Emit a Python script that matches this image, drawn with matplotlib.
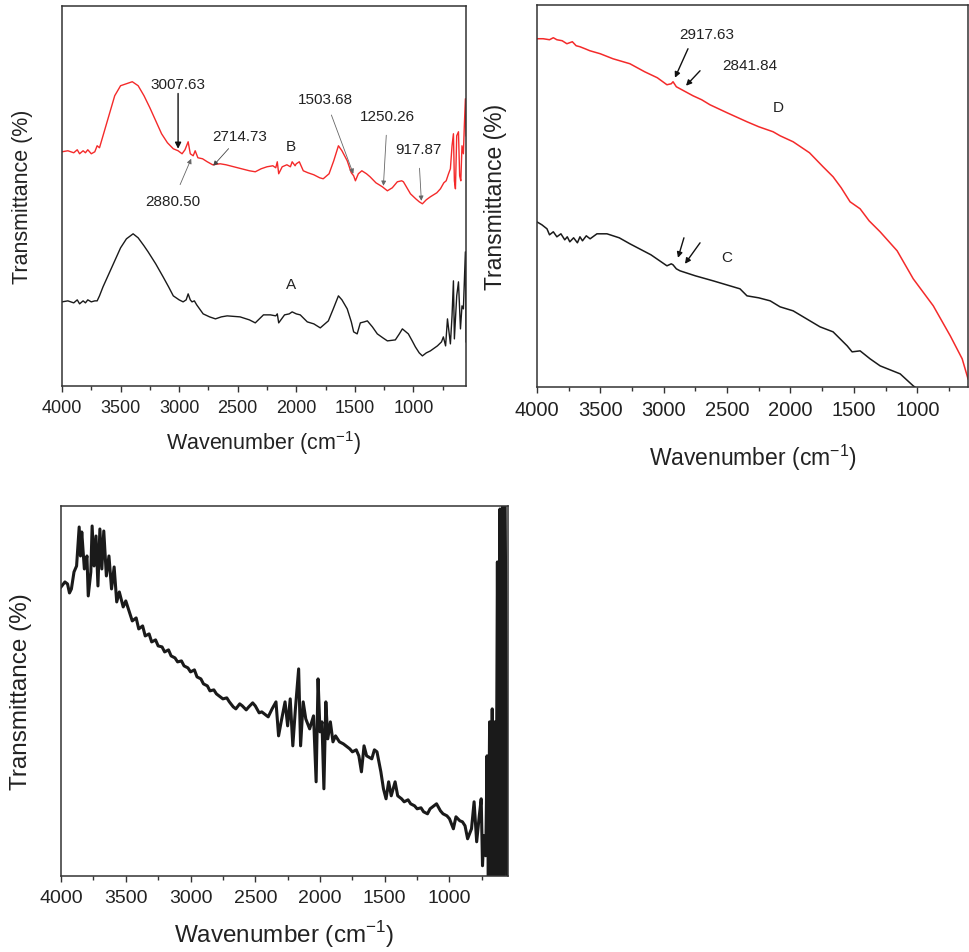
import matplotlib
matplotlib.use("Agg")
import matplotlib.pyplot as plt
from matplotlib.ticker import MultipleLocator

plt.rcParams['font.family'] = ['Liberation Sans', 'DejaVu Sans']
plt.rcParams['mathtext.fontset'] = 'custom'
plt.rcParams['mathtext.rm'] = 'Liberation Sans'

###############################################################################
############################## Data ###########################################
###############################################################################

# top-left panel, curve B (red) -- wavenumber (cm-1), transmittance (a.u.)
wn_B = [4000, 3950, 3900, 3870, 3850, 3820, 3800, 3780, 3750, 3720, 3700, 3680,
        3650, 3600, 3550, 3500, 3450, 3400, 3350, 3300, 3250, 3200, 3150, 3100,
        3050, 3009, 2975, 2950, 2923, 2905, 2880, 2863, 2840, 2800, 2760, 2714,
        2650, 2600, 2500, 2400, 2350, 2300, 2250, 2200, 2175, 2162, 2150, 2120,
        2080, 2050, 2035, 2010, 2000, 1974, 1940, 1900, 1850, 1800, 1770, 1720,
        1680, 1640, 1610, 1565, 1530, 1510, 1495, 1470, 1440, 1400, 1370, 1320,
        1265, 1222, 1180, 1137, 1100, 1085, 1050, 1025, 980, 950, 923, 890,
        855, 800, 769, 740, 720, 700, 684, 670, 658, 650, 641, 630, 615, 605,
        595, 585, 573, 565, 556, 550]
T_B = [234, 235, 233, 236, 232, 235, 233, 236, 232, 234, 240, 238,
       250, 270, 290, 300, 302, 304, 300, 290, 278, 265, 252, 243,
       237, 235, 232, 236, 244, 232, 230, 235, 228, 227, 224, 221,
       222, 221, 218, 215, 214, 217, 219, 220, 218, 224, 212, 219,
       221, 219, 224, 220, 222, 224, 215, 213, 211, 208, 207, 212,
       225, 240, 235, 225, 213, 210, 205, 212, 215, 212, 209, 203,
       199, 195, 198, 204, 205, 204, 197, 192, 187, 184, 182, 186,
       189, 193, 197, 203, 205, 212, 217, 240, 252, 205, 197, 250, 254, 210,
       205, 240, 232, 260, 287, 250]

# top-left panel, curve A (black)
wn_A = [4000, 3950, 3900, 3870, 3850, 3820, 3800, 3780, 3750, 3720, 3700, 3680,
        3650, 3600, 3550, 3500, 3450, 3393, 3350, 3300, 3265, 3200, 3137, 3090,
        3050, 3000, 2966, 2940, 2923, 2905, 2890, 2870, 2850, 2795, 2740, 2690,
        2640, 2590, 2480, 2400, 2350, 2280, 2220, 2175, 2162, 2150, 2100, 2060,
        2035, 2000, 1966, 1906, 1850, 1795, 1726, 1684, 1640, 1610, 1565, 1530,
        1510, 1480, 1453, 1420, 1393, 1350, 1308, 1260, 1222, 1154, 1120, 1094,
        1043, 1010, 983, 950, 923, 890, 855, 795, 760, 744, 725, 709, 684, 670,
        658, 650, 630, 615, 598, 585, 573, 556, 550]
T_A = [84, 85, 83, 86, 82, 85, 83, 86, 84, 85, 85, 90,
       99, 112, 125, 138, 147, 152, 148, 140, 134, 122, 109, 99,
       90, 86, 84, 86, 92, 86, 84, 85, 81, 72, 69, 67,
       69, 70, 69, 66, 63, 71, 71, 70, 72, 63, 71, 72,
       74, 72, 71, 64, 62, 58, 65, 77, 90, 86, 77, 64,
       54, 52, 63, 64, 65, 59, 52, 48, 45, 46, 52, 57,
       52, 45, 39, 33, 30, 33, 35, 40, 44, 49, 40, 67, 42, 70,
       105, 47, 90, 104, 57, 80, 77, 134, 44]

# top-right panel, curve D (red)
wn_D = [4000, 3950, 3900, 3870, 3842, 3800, 3763, 3720, 3690, 3660, 3620, 3582,
        3500, 3400, 3266, 3150, 3050, 2974, 2940, 2926, 2900, 2871, 2769, 2700,
        2635, 2500, 2343, 2250, 2137, 2082, 1979, 1850, 1743, 1664, 1600, 1530,
        1451, 1380, 1293, 1159, 1032, 874, 740, 646, 600]
T_D = [348, 348, 347, 349, 347, 346, 343, 345, 341, 340, 338, 336,
       333, 328, 323, 315, 309, 302, 303, 305, 300, 298, 291, 287,
       282, 274, 265, 260, 255, 251, 245, 234, 220, 210, 199, 185,
       178, 166, 155, 136, 108, 81, 51, 28, 8]

# top-right panel, curve C (black)
wn_C = [4000, 3960, 3920, 3900, 3870, 3842, 3810, 3780, 3760, 3740, 3710, 3680,
        3660, 3640, 3610, 3580, 3526, 3447, 3350, 3266, 3100, 2974, 2940, 2926,
        2900, 2871, 2750, 2610, 2398, 2343, 2250, 2160, 2082, 1979, 1767, 1664,
        1553, 1514, 1451, 1372, 1293, 1135, 1032, 1000, 900, 600]
T_C = [165, 162, 158, 152, 155, 150, 153, 147, 150, 145, 149, 144,
       150, 146, 151, 148, 153, 153, 149, 143, 132, 121, 123, 122,
       118, 116, 111, 106, 98, 91, 89, 86, 80, 76, 60, 55,
       41, 35, 36, 28, 21, 13, 1, -2, -15, -60]

# bottom panel (black)
wn_E = [4000, 3970, 3950, 3935, 3920, 3900, 3880, 3860, 3850, 3840, 3820, 3800,
        3790, 3770, 3760, 3745, 3730, 3715, 3700, 3685, 3670, 3650, 3630, 3610,
        3590, 3570, 3550, 3520, 3500, 3480, 3450, 3420, 3400, 3370, 3350, 3320,
        3300, 3270, 3250, 3220, 3200, 3170, 3150, 3120, 3100, 3070, 3050, 3020,
        3000, 2970, 2950, 2920, 2900, 2870, 2850, 2820, 2800, 2770, 2750, 2720,
        2700, 2670, 2650, 2620, 2600, 2570, 2550, 2520, 2500, 2470, 2450, 2420,
        2400, 2370, 2340, 2320, 2300, 2270, 2250, 2230, 2210, 2190, 2165, 2150,
        2130, 2110, 2080, 2050, 2030, 2015, 2000, 1985, 1970, 1955, 1940, 1920,
        1900, 1880, 1850, 1820, 1800, 1770, 1750, 1720, 1700, 1680, 1660, 1640,
        1600, 1580, 1560, 1530, 1510, 1490, 1470, 1450, 1420, 1400, 1370, 1350,
        1320, 1300, 1270, 1250, 1220, 1200, 1170, 1150, 1120, 1100, 1070, 1050,
        1020, 1000, 970, 950, 920, 900, 880, 860, 830, 810, 790, 770, 755, 745,
        735, 720, 710, 700, 690, 680, 670, 660, 650, 640, 630, 620, 610, 600,
        590, 580, 570, 560, 553]
T_E = [289, 294, 292, 283, 287, 304, 310, 349, 320, 344, 307, 320,
       280, 304, 350, 310, 340, 290, 347, 307, 345, 300, 320, 287,
       309, 274, 284, 269, 275, 267, 255, 258, 247, 250, 240, 242,
       234, 236, 230, 229, 224, 226, 220, 218, 214, 215, 210, 208,
       204, 206, 199, 197, 192, 190, 185, 186, 182, 179, 177, 178,
       174, 169, 167, 172, 170, 166, 169, 173, 170, 163, 164, 161,
       159, 167, 174, 140, 154, 174, 150, 177, 130, 167, 207, 130,
       174, 157, 147, 160, 94, 197, 144, 154, 87, 174, 137, 154,
       134, 140, 134, 132, 130, 127, 124, 126, 120, 104, 130, 120,
       117, 126, 124, 104, 87, 77, 94, 80, 94, 80, 77, 74,
       76, 72, 70, 67, 68, 64, 62, 67, 70, 72, 65, 62,
       60, 57, 47, 59, 55, 54, 50, 37, 47, 74, 34, 60, 77, 10,
       40, 20, 120, 0, 154, 0, 167, 0, 154, 0, 314, 0, 367, 0,
       370, 0, 370, 154, 0]

###############################################################################
############################## Figure #########################################
###############################################################################

RED = '#f42a2a'
BLACK = '#1a1a1a'
FRAME = '#333333'
XLABEL = r'Wavenumber (cm$^{\mathregular{-1}}$)'

fig = plt.figure(figsize=(9.69, 9.53), dpi=100)
ax1 = fig.add_axes([0.064, 0.594, 0.417, 0.399])
ax2 = fig.add_axes([0.554, 0.593, 0.445, 0.401])
ax3 = fig.add_axes([0.063, 0.080, 0.461, 0.388])


def style_axis(ax, xmin, tick_fs, label_fs, ylabel_x, xlabel_y):
    ax.set_xlim(4000, xmin)
    ax.set_xticks([4000, 3500, 3000, 2500, 2000, 1500, 1000])
    ax.xaxis.set_minor_locator(MultipleLocator(250))
    ax.set_yticks([])
    ax.tick_params(axis='x', which='major', direction='out', length=4.5,
                   width=1, pad=5, labelsize=tick_fs, colors=FRAME, labelcolor='#222222')
    ax.tick_params(axis='x', which='minor', direction='out', length=3, width=1, colors=FRAME)
    for sp in ax.spines.values():
        sp.set_color(FRAME)
        sp.set_linewidth(1.1)
    ax.set_xlabel(XLABEL, fontsize=label_fs, color='#222222')
    ax.set_ylabel('Transmittance (%)', fontsize=label_fs, color='#222222')
    ax.yaxis.set_label_coords(ylabel_x, 0.5)
    ax.xaxis.set_label_coords(0.5, xlabel_y)


# top-left: A and B
ax1.plot(wn_B, T_B, color=RED, lw=1.0)
ax1.plot(wn_A, T_A, color=BLACK, lw=1.0)
ax1.set_ylim(0, 380)
style_axis(ax1, 550, 13, 15.5, -0.072, -0.112)
ax1.text(2043, 102, 'A', fontsize=11, ha='center', va='center', color='#222222')
ax1.text(2043, 240, 'B', fontsize=11, ha='center', va='center', color='#222222')

ann_fs = 11
ax1.annotate('3007.63', xy=(3009, 237), xytext=(3009, 295), fontsize=ann_fs,
             ha='center', va='bottom', color='#222222',
             arrowprops=dict(arrowstyle='-|>', color='#111111', lw=1.0, mutation_scale=9,
                             shrinkA=0, shrinkB=0))
ax1.annotate('2714.73', xy=(2709, 220), xytext=(2479, 250), fontsize=ann_fs,
             ha='center', va='center', color='#222222',
             arrowprops=dict(arrowstyle='-|>', color='#444444', lw=0.6, mutation_scale=7,
                             shrinkA=3, shrinkB=0))
ax1.annotate('2880.50', xy=(2897, 227), xytext=(3051, 185), fontsize=ann_fs,
             ha='center', va='center', color='#222222',
             arrowprops=dict(arrowstyle='-|>', color='#666666', lw=0.6, mutation_scale=7,
                             shrinkA=5, shrinkB=0))
ax1.annotate('1503.68', xy=(1513, 212), xytext=(1752, 287), fontsize=ann_fs,
             ha='center', va='center', color='#222222',
             arrowprops=dict(arrowstyle='-|>', color='#666666', lw=0.6, mutation_scale=7,
                             shrinkA=5, shrinkB=0))
ax1.annotate('1250.26', xy=(1256, 200), xytext=(1222, 270), fontsize=ann_fs,
             ha='center', va='center', color='#222222',
             arrowprops=dict(arrowstyle='-|>', color='#666666', lw=0.6, mutation_scale=7,
                             shrinkA=7, shrinkB=0))
ax1.annotate('917.87', xy=(932, 185), xytext=(957, 237), fontsize=ann_fs,
             ha='center', va='center', color='#222222',
             arrowprops=dict(arrowstyle='-|>', color='#666666', lw=0.6, mutation_scale=7,
                             shrinkA=7, shrinkB=0))

# top-right: C and D
ax2.plot(wn_D, T_D, color=RED, lw=1.1)
ax2.plot(wn_C, T_C, color=BLACK, lw=1.1)
ax2.set_ylim(0, 382)
style_axis(ax2, 600, 14.5, 16.5, -0.070, -0.145)
ax2.text(2098, 280, 'D', fontsize=11, ha='center', va='center', color='#222222')
ax2.text(2500, 130, 'C', fontsize=11, ha='center', va='center', color='#222222')
ax2.text(2658, 353, '2917.63', fontsize=ann_fs, ha='center', va='center', color='#222222')
ax2.text(2319, 322, '2841.84', fontsize=ann_fs, ha='center', va='center', color='#222222')

arrow_kw = dict(arrowstyle='-|>', color='#111111', lw=1.0, mutation_scale=8, shrinkA=0, shrinkB=0)
ax2.annotate('', xy=(2911, 309), xytext=(2808, 338), arrowprops=arrow_kw)
ax2.annotate('', xy=(2824, 301), xytext=(2713, 316), arrowprops=arrow_kw)
ax2.annotate('', xy=(2887, 129), xytext=(2840, 149), arrowprops=arrow_kw)
ax2.annotate('', xy=(2832, 123), xytext=(2713, 144), arrowprops=arrow_kw)

# bottom panel
ax3.plot(wn_E, T_E, color=BLACK, lw=2.2)
ax3.set_ylim(0, 370)
style_axis(ax3, 550, 14, 17.5, -0.065, -0.115)

fig.savefig('out.png', dpi=100)
